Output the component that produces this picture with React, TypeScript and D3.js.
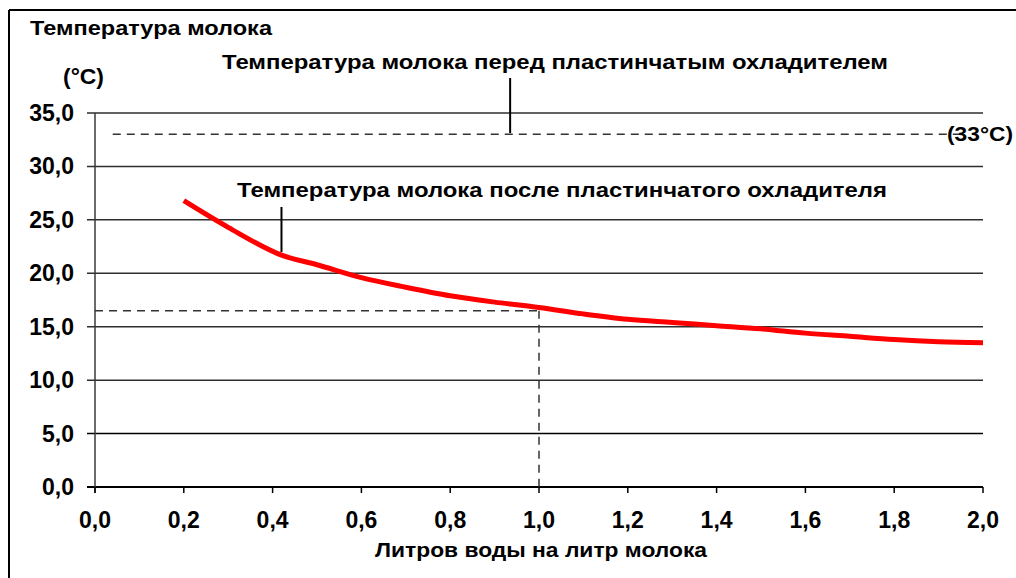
import React from "react";
import * as d3 from "d3";

const litres = [0.2, 0.3, 0.42, 0.5, 0.6, 0.7, 0.8, 0.9, 1.0, 1.1, 1.2, 1.3, 1.4, 1.5, 1.6, 1.7, 1.8, 1.9, 2.0];
const tempAfter = [26.8, 24.3, 21.7, 20.8, 19.6, 18.7, 17.9, 17.3, 16.8, 16.2, 15.7, 15.4, 15.1, 14.8, 14.4, 14.1, 13.8, 13.6, 13.5];
const yTicks = [0, 5, 10, 15, 20, 25, 30, 35];
const xTicks = [0, 0.2, 0.4, 0.6, 0.8, 1.0, 1.2, 1.4, 1.6, 1.8, 2.0];
const tempBefore = 33;
const refX = 1.0;
const refY = 16.5;
const beforeStartX = 0.04;
const beforeEndX = 1.95;
const labelBeforeX = 0.935;
const labelAfterX = 0.42;

const fmt = (v: number) => v.toFixed(1).replace(".", ",");

export default function App() {
  const x = d3.scaleLinear().domain([0, 2]).range([95, 983]);
  const y = d3.scaleLinear().domain([0, 35]).range([487, 113]);
  const line = d3
    .line<number>()
    .x((_, i) => x(litres[i]))
    .y((d) => y(d))
    .curve(d3.curveMonotoneX);
  const bold = "Arial, 'Liberation Sans', sans-serif";
  const tickFont = "'Liberation Sans', Arial, sans-serif";
  return (
    <svg width={1016} height={578} style={{ position: "absolute", left: 0, top: 0, background: "#fff" }}>
      <rect x={0} y={0} width={1016} height={578} fill="#fff" />
      <line x1={9} y1={10} x2={1016} y2={10} stroke="#000" strokeWidth={2} />
      <line x1={9} y1={10} x2={9} y2={578} stroke="#000" strokeWidth={2} />
      <text x={30} y={35} fontFamily={bold} fontWeight="bold" fontSize={20} textLength={242} lengthAdjust="spacingAndGlyphs">Температура молока</text>
      <text x={63} y={84} fontFamily={tickFont} fontWeight="bold" fontSize={22} textLength={41} lengthAdjust="spacingAndGlyphs">(°C)</text>
      {yTicks.map((t) => (
        <g key={"y" + t}>
          <line x1={87} x2={983} y1={y(t)} y2={y(t)} stroke={t === 0 || t === 5 ? "#000" : "#2e2e2e"} strokeWidth={t === 0 ? 2 : 1.5} />
          <text x={74} y={y(t) + 8} textAnchor="end" fontFamily={tickFont} fontWeight="bold" fontSize={23}>{fmt(t)}</text>
        </g>
      ))}
      <line x1={x(0)} x2={x(0)} y1={y(35)} y2={y(0) + 6} stroke="#3a3a3a" strokeWidth={1.5} />
      {xTicks.map((t) => (
        <g key={"x" + t}>
          <line x1={x(t)} x2={x(t)} y1={y(0)} y2={y(0) + 6} stroke="#000" strokeWidth={1.5} />
          <text x={x(t)} y={528} textAnchor="middle" fontFamily={tickFont} fontWeight="bold" fontSize={23}>{fmt(t)}</text>
        </g>
      ))}
      <line x1={x(beforeStartX)} x2={x(beforeEndX)} y1={y(tempBefore)} y2={y(tempBefore)} stroke="#333" strokeWidth={1.5} strokeDasharray="8,6" />
      <text x={947} y={141} fontFamily={tickFont} fontWeight="bold" fontSize={21} textLength={66} lengthAdjust="spacingAndGlyphs">(33°C)</text>
      <line x1={x(0)} x2={x(refX)} y1={y(refY)} y2={y(refY)} stroke="#333" strokeWidth={1.5} strokeDasharray="8,6" />
      <line x1={x(refX)} x2={x(refX)} y1={y(refY)} y2={y(0)} stroke="#333" strokeWidth={1.5} strokeDasharray="8,6" />
      <path d={line(tempAfter) || ""} fill="none" stroke="#ff0000" strokeWidth={5} />
      <line x1={x(labelBeforeX)} x2={x(labelBeforeX)} y1={78} y2={133} stroke="#000" strokeWidth={2} />
      <text x={222} y={69} fontFamily={bold} fontWeight="bold" fontSize={20} textLength={666} lengthAdjust="spacingAndGlyphs">Температура молока перед пластинчатым охладителем</text>
      <line x1={x(labelAfterX)} x2={x(labelAfterX)} y1={207} y2={252} stroke="#000" strokeWidth={2} />
      <text x={237} y={197} fontFamily={bold} fontWeight="bold" fontSize={20} textLength={650} lengthAdjust="spacingAndGlyphs">Температура молока после пластинчатого охладителя</text>
      <text x={375} y={557} fontFamily={bold} fontWeight="bold" fontSize={20} textLength={332} lengthAdjust="spacingAndGlyphs">Литров воды на литр молока</text>
    </svg>
  );
}
